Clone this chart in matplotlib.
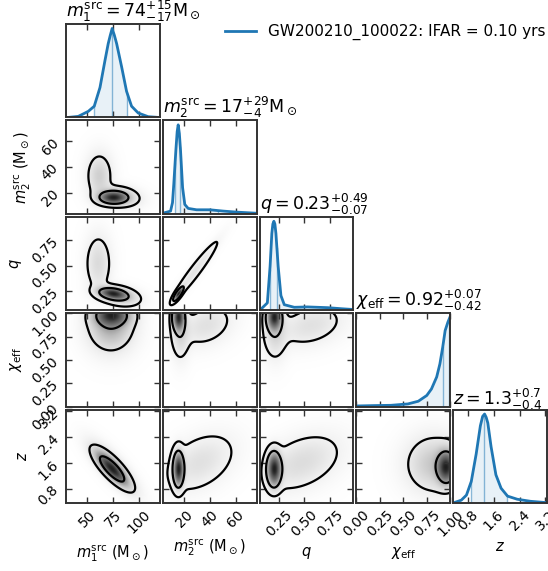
import numpy as np
import matplotlib
matplotlib.use("Agg")
import matplotlib.pyplot as plt
from matplotlib.colors import PowerNorm

# ---------------- data ----------------
param_labels = [r'$m_1^{\rm src}$ (M$_\odot$)', r'$m_2^{\rm src}$ (M$_\odot$)',
                r'$q$', r'$\chi_{\rm eff}$', r'$z$']
titles = [r'$m_1^{\rm src} = 74^{+15}_{-17} {\rm M}_\odot$',
          r'$m_2^{\rm src} = 17^{+29}_{-4} {\rm M}_\odot$',
          r'$q = 0.23^{+0.49}_{-0.07}$',
          r'$\chi_{\rm eff} = 0.92^{+0.07}_{-0.42}$',
          r'$z = 1.3^{+0.7}_{-0.4}$']
ranges = [(30, 120), (3.5, 76), (0.06, 0.98), (0.0, 1.0), (0.35, 3.25)]
ticks = [[50, 75, 100], [20, 40, 60], [0.25, 0.50, 0.75],
         [0.0, 0.25, 0.5, 0.75, 1.0], [0.8, 1.6, 2.4, 3.2]]
tick_labels = [['50', '75', '100'], ['20', '40', '60'], ['0.25', '0.50', '0.75'],
               ['0.00', '0.25', '0.50', '0.75', '1.00'], ['0.8', '1.6', '2.4', '3.2']]
quantiles = [(57, 74, 89), (13, 17, 46), (0.16, 0.23, 0.72), (0.50, 0.92, 0.99), (0.9, 1.3, 2.0)]
legend_label = 'GW200210_100022: IFAR = 0.10 yrs'

# 1D marginal posteriors (x, relative density)
m1_x = [32.2, 41.8, 51.4, 57.1, 62.6, 67.4, 70.5, 72.5, 74.3, 76.4, 78.6, 83.4, 88.1, 92.9, 99.3, 108.8, 118.4]
m1_y = [0.0, 0.011, 0.065, 0.12, 0.32, 0.61, 0.79, 0.88, 0.953, 0.88, 0.79, 0.54, 0.28, 0.12, 0.047, 0.008, 0.0]
m2_x = [3.7, 9.5, 11.0, 12.0, 13.6, 14.6, 15.4, 16.3, 17.2, 18.8, 20.5, 23.1, 29.6, 39.9, 50.2, 60.6, 74.8]
m2_y = [0.007, 0.029, 0.12, 0.32, 0.68, 0.88, 0.953, 0.86, 0.68, 0.28, 0.10, 0.058, 0.043, 0.043, 0.029, 0.018, 0.007]
q_x = [0.07, 0.136, 0.163, 0.18, 0.19, 0.20, 0.21, 0.22, 0.242, 0.269, 0.302, 0.40, 0.53, 0.73, 0.86, 0.97]
q_y = [0.008, 0.078, 0.47, 0.82, 0.92, 0.95, 0.92, 0.82, 0.47, 0.157, 0.059, 0.031, 0.035, 0.027, 0.016, 0.008]
chi_x = [0.01, 0.19, 0.37, 0.55, 0.66, 0.75, 0.80, 0.856, 0.89, 0.92, 0.946, 0.975, 0.995]
chi_y = [0.007, 0.011, 0.014, 0.029, 0.058, 0.12, 0.19, 0.32, 0.46, 0.64, 0.82, 0.91, 0.96]
z_x = [0.38, 0.60, 0.76, 0.91, 1.06, 1.19, 1.26, 1.32, 1.37, 1.42, 1.52, 1.67, 1.83, 2.03, 2.33, 2.74, 3.23]
z_y = [0.004, 0.03, 0.084, 0.23, 0.52, 0.82, 0.92, 0.945, 0.91, 0.85, 0.60, 0.30, 0.157, 0.073, 0.04, 0.018, 0.004]
marg_x = [m1_x, m2_x, q_x, chi_x, z_x]
marg_y = [m1_y, m2_y, q_y, chi_y, z_y]

# 2D posteriors: mixture components [cx, cy, sx, sy, rho, weight]
m1_m2_comp = [[75, 16, 8, 3.0, 0.0, 0.45], [81, 17, 11, 4.5, -0.2, 0.25], [62, 33, 7, 10, 0.0, 0.25]]
m1_q_comp = [[75, 0.22, 8, 0.035, -0.3, 0.45], [81, 0.20, 11, 0.055, -0.3, 0.25], [61, 0.52, 7, 0.16, 0.0, 0.25]]
m2_q_comp = [[15.5, 0.22, 2.0, 0.035, 0.8, 0.5], [28, 0.44, 10.5, 0.175, 0.96, 0.45]]
m1_chi_comp = [[74, 0.98, 10, 0.07, 0.0, 0.45], [73, 0.88, 12.5, 0.16, 0.0, 0.55]]
m2_chi_comp = [[15.5, 0.96, 2.5, 0.08, 0.0, 0.43], [17, 0.82, 4.0, 0.17, 0.0, 0.22],
               [37, 0.87, 12, 0.13, 0.3, 0.3]]
q_chi_comp = [[0.2, 0.96, 0.04, 0.08, 0.0, 0.43], [0.21, 0.82, 0.065, 0.17, 0.0, 0.22],
              [0.56, 0.87, 0.19, 0.13, 0.3, 0.3]]
m1_z_comp = [[74, 1.4, 9, 0.3, -0.8, 0.65], [75, 1.45, 12, 0.42, -0.8, 0.35]]
m2_z_comp = [[15.5, 1.4, 2.3, 0.3, 0.0, 0.5], [32, 1.6, 15, 0.5, 0.4, 0.45]]
q_z_comp = [[0.2, 1.4, 0.04, 0.3, 0.0, 0.5], [0.47, 1.6, 0.22, 0.5, 0.4, 0.45]]
chi_z_comp = [[0.96, 1.45, 0.06, 0.3, 0.0, 0.5], [0.83, 1.55, 0.17, 0.5, 0.0, 0.5]]
pair_comp = {(1, 0): m1_m2_comp, (2, 0): m1_q_comp, (2, 1): m2_q_comp,
             (3, 0): m1_chi_comp, (3, 1): m2_chi_comp, (3, 2): q_chi_comp,
             (4, 0): m1_z_comp, (4, 1): m2_z_comp, (4, 2): q_z_comp, (4, 3): chi_z_comp}

# ---------------- plotting ----------------
blue = '#1f77b4'
spine_col = '#333333'
fig = plt.figure(figsize=(5.48, 5.71), dpi=100)
gs = fig.add_gridspec(5, 5, left=66 / 548, right=547 / 548, top=1 - 24 / 571,
                      bottom=1 - 503 / 571, wspace=0.032, hspace=0.032)
n = 5


def mixture(comp, X, Y):
    D = np.zeros_like(X)
    for cx, cy, sx, sy, rho, w in comp:
        dx = (X - cx) / sx
        dy = (Y - cy) / sy
        r = 1 - rho ** 2
        D += w / (2 * np.pi * sx * sy * np.sqrt(r)) * np.exp(-(dx ** 2 - 2 * rho * dx * dy + dy ** 2) / (2 * r))
    return D


def style(ax, diag=False):
    for s in ax.spines.values():
        s.set_color(spine_col)
        s.set_linewidth(1.4)
    ax.tick_params(direction='in', length=4.5, width=1, color=spine_col,
                   top=True, right=not diag, left=not diag, bottom=True, labelsize=10)


for i in range(n):
    for j in range(n):
        if j > i:
            continue
        ax = fig.add_subplot(gs[i, j])
        if i == j:
            x = np.array(marg_x[i]); y = np.array(marg_y[i])
            ax.plot(x, y, color=blue, lw=2)
            lo, med, hi = quantiles[i]
            xf = np.concatenate([[lo], x[(x > lo) & (x < hi)], [hi]])
            yf = np.interp(xf, x, y)
            ax.fill_between(xf, 0, yf, color=blue, alpha=0.1, lw=0)
            for qv in (lo, med, hi):
                ax.plot([qv, qv], [0, np.interp(qv, x, y)], color=blue, alpha=0.5, lw=1)
            ax.set_xlim(ranges[i])
            ax.set_ylim(0, 1.05 * y.max())
            ax.set_yticks([])
            ax.set_title(titles[i], loc='left', fontsize=12.5, pad=3)
            style(ax, diag=True)
        else:
            xr = ranges[j]; yr = ranges[i]
            gx = np.linspace(xr[0], xr[1], 300)
            gy = np.linspace(yr[0], yr[1], 300)
            X, Y = np.meshgrid(gx, gy)
            D = mixture(pair_comp[(i, j)], X, Y)
            ax.imshow(D, origin='lower', extent=[xr[0], xr[1], yr[0], yr[1]], aspect='auto',
                      cmap='Greys', norm=PowerNorm(0.6, vmin=0, vmax=D.max() * 1.2),
                      interpolation='bilinear')
            flat = np.sort(D.ravel())[::-1]
            cs = np.cumsum(flat) / flat.sum()
            lev = [flat[np.searchsorted(cs, 0.9)], flat[np.searchsorted(cs, 0.5)]]
            ax.contour(X, Y, D, levels=lev, colors='k', linewidths=1.6)
            ax.set_xlim(xr); ax.set_ylim(yr)
            style(ax)
        ax.set_xticks(ticks[j])
        if i != j:
            ax.set_yticks(ticks[i])
        if i == n - 1:
            ax.set_xticklabels(tick_labels[j], rotation=45)
            ax.set_xlabel(param_labels[j], fontsize=10.5)
        else:
            ax.set_xticklabels([])
        if j == 0 and i != 0:
            ax.set_yticklabels(tick_labels[i], rotation=45)
            ax.set_ylabel(param_labels[i], fontsize=10.5)
        elif i != j:
            ax.set_yticklabels([])

handle = plt.Line2D([], [], color=blue, lw=2)
fig.legend([handle], [legend_label], loc='upper right', bbox_to_anchor=(1.021, 0.982),
           frameon=False, fontsize=11)
fig.savefig('out.png', dpi=100)
